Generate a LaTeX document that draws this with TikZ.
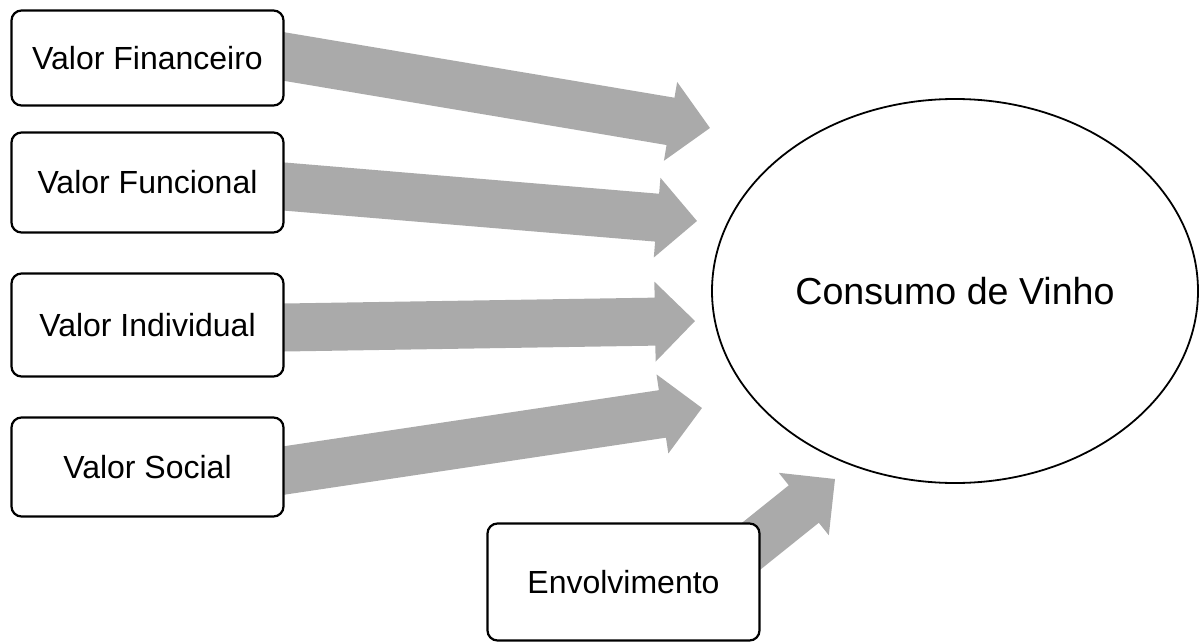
\documentclass[tikz,border=0pt]{standalone}
\usepackage{fontspec}
\setmainfont{Liberation Sans}
\usetikzlibrary{calc,shapes.geometric}
\definecolor{arrowgray}{RGB}{170,170,170}
% block arrow from named point #1 to named tip #2
\newcommand\blockarrow[2]{%
  \fill[arrowgray] let \p1=(#1), \p2=(#2),
    \n1={atan2(\y2-\y1,\x2-\x1)},
    \n2={veclen(\x2-\x1,\y2-\y1)},
    \n3={\n2-40pt} in
    [shift={(\x1,\y1)}, rotate=\n1]
    (-12pt,-24pt) -- (\n3,-24pt) -- (\n3,-40pt) -- (\n2,0pt)
    -- (\n3,40pt) -- (\n3,24pt) -- (-12pt,24pt) -- cycle;
}
\begin{document}
\begin{tikzpicture}[x=1pt,y=-1pt,
  valbox/.style={draw=black, line width=2.2pt, fill=white, rounded corners=10pt,
    minimum width=272pt, inner sep=0pt, font=\fontsize{32}{38}\selectfont},
  target/.style={draw=black, line width=1.8pt, fill=white, ellipse,
    minimum width=486pt, minimum height=384pt, inner sep=0pt,
    font=\fontsize{37.6}{44}\selectfont}]
\useasboundingbox (0,0) rectangle (1200,642);

% node positions
\path (147.5,58)  coordinate (c1)
      (147.5,182.5) coordinate (c2)
      (147.5,325) coordinate (c3)
      (147.5,467) coordinate (c4)
      (623.5,582) coordinate (c5);

% arrow tips
\coordinate (t1) at (710,128);
\coordinate (t2) at (697,221);
\coordinate (t3) at (695,321);
\coordinate (t4) at (702,408);
\coordinate (t5) at (835,479);

% arrow starts (behind boxes)
\coordinate (s1) at (284,56.5);
\coordinate (s2) at (284,186.5);
\coordinate (s3) at (284,327.5);
\coordinate (s4) at (284,470.5);
\coordinate (s5) at (729,564);

\blockarrow{s1}{t1}
\blockarrow{s2}{t2}
\blockarrow{s3}{t3}
\blockarrow{s4}{t4}
\blockarrow{s5}{t5}

\node[valbox, minimum height=95pt]  (fin) at (c1) {Valor Financeiro};
\node[valbox, minimum height=100pt] (fun) at (c2) {Valor Funcional};
\node[valbox, minimum height=103pt] (ind) at (c3) {Valor Individual};
\node[valbox, minimum height=99pt]  (soc) at (c4) {Valor Social};
\node[valbox, minimum height=117pt] (env) at (c5) {Envolvimento};

\node[target] (cons) at (955,291) {Consumo de Vinho};
\end{tikzpicture}
\end{document}
